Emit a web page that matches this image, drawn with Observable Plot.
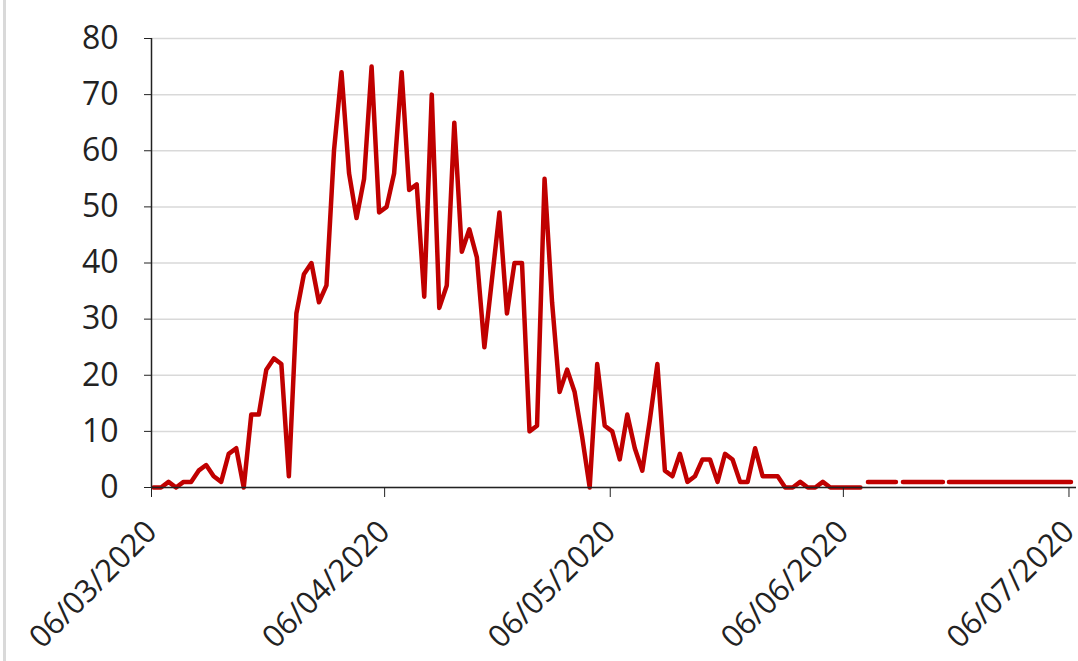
<!DOCTYPE html>
<html>
<head>
<meta charset="utf-8">
<script src="https://cdn.jsdelivr.net/npm/d3@7"></script>
<script src="https://cdn.jsdelivr.net/npm/@observablehq/plot@0.6"></script>
<style>
  body { margin: 0; background: #ffffff; }
  #wrap { position: relative; width: 1078px; height: 661px; overflow: hidden; }
  #edge { position: absolute; left: 3px; top: 0; width: 3px; height: 661px; background: #d9d9d9; }
  #chart { position: absolute; left: 0; top: 0; }
</style>
</head>
<body>
<div id="wrap"><div id="chart"></div><div id="edge"></div></div>
<script>
// Daily values starting 06/03/2020 (DD/MM/YYYY)
const startDate = [2020, 2, 6];
const mainValues = [
  0, 0, 1, 0, 1, 1, 3, 4, 2, 1,
  6, 7, 0, 13, 13, 21, 23, 22, 2, 31,
  38, 40, 33, 36, 60, 74, 56, 48, 55, 75,
  49, 50, 56, 74, 53, 54, 34, 70, 32, 36,
  65, 42, 46, 41, 25, 37, 49, 31, 40, 40,
  10, 11, 55, 33, 17, 21, 17, 9, 0, 22,
  11, 10, 5, 13, 7, 3, 12, 22, 3, 2,
  6, 1, 2, 5, 5, 1, 6, 5, 1, 1,
  7, 2, 2, 2, 0, 0, 1, 0, 0, 1,
  0, 0, 0, 0, 0
];
const tailValues = [
  1, 1, 1, 1, 1, 1, 1, 1, 1, 1,
  1, 1, 1, 1, 1, 1, 1, 1, 1, 1,
  1, 1, 1, 1, 1, 1, 1, 1
];
const tickDates = ["2020-03-06", "2020-04-06", "2020-05-06", "2020-06-06", "2020-07-06"];
const tickLabels = ["06/03/2020", "06/04/2020", "06/05/2020", "06/06/2020", "06/07/2020"];
const yTicks = [0, 10, 20, 30, 40, 50, 60, 70, 80];

const day = (i) => new Date(Date.UTC(startDate[0], startDate[1], startDate[2] + i));
const mainData = mainValues.map((v, i) => ({date: day(i), value: v}));
const tailData = tailValues.map((v, i) => ({date: day(mainValues.length + i), value: v}));
const ticks = tickDates.map((s) => new Date(s + "T00:00:00Z"));
const labelOf = new Map(ticks.map((t, i) => [+t, tickLabels[i]]));
const x0 = day(0);
const x1 = new Date(Date.UTC(2020, 6, 7));

const chart = Plot.plot({
  width: 1078,
  height: 661,
  marginLeft: 151,
  marginRight: 2,
  marginTop: 38,
  marginBottom: 174,
  style: {fontFamily: "'Open Sans', sans-serif", fontSize: "31px", color: "#222", background: "white", overflow: "visible"},
  x: {type: "utc", domain: [x0, x1], label: null},
  y: {domain: [0, 80], label: null},
  marks: [
    Plot.gridY(yTicks, {stroke: "#d9d9d9", strokeOpacity: 1, strokeWidth: 1.5}),
    Plot.lineY(mainData, {x: "date", y: "value", stroke: "#c00000", strokeWidth: 4.5, strokeLinejoin: "round", dx: 2}),
    Plot.lineY(tailData, {x: "date", y: "value", stroke: "#c00000", strokeWidth: 4.5, strokeDasharray: "28,7,40,6,400", dx: 2}),
    Plot.ruleY([0], {stroke: "#222", strokeWidth: 1.5}),
    Plot.ruleX([x0], {stroke: "#222", strokeWidth: 1.5}),
    Plot.axisY({ticks: yTicks, tickSize: 7, tickPadding: 26, fontSize: 32, stroke: "#222", fill: "#222", label: null}),
    Plot.axisX({ticks: ticks, tickFormat: (d) => labelOf.get(+d), tickRotate: -45, tickSize: 10, tickPadding: 29, fontSize: 31, stroke: "#222", fill: "#222", label: null})
  ]
});
document.getElementById("chart").appendChild(chart);
</script>
</body>
</html>
